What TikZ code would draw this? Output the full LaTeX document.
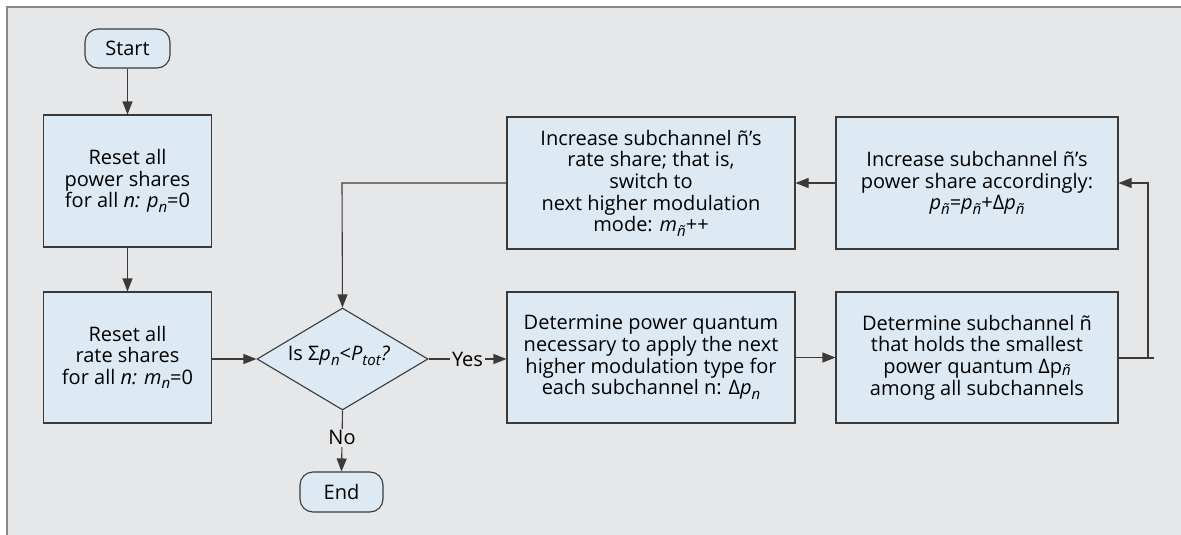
\documentclass[tikz,border=0pt]{standalone}
\usepackage{fontspec}
\setmainfont{Open Sans}
\usetikzlibrary{shapes.geometric,arrows.meta}
\definecolor{bgc}{HTML}{E6E7E9}
\definecolor{boxc}{HTML}{DDEAF4}
\definecolor{linec}{HTML}{3A3A3A}
\definecolor{framec}{HTML}{888888}
\newcommand{\msub}[1]{\raisebox{-0.4ex}{\fontsize{15}{15}\selectfont\textit{#1}}}
\newcommand{\vi}[1]{\textit{#1}}
\tikzset{
  basefont/.style={font=\fontsize{20}{21.7}\selectfont},
  procbox/.style={draw=linec, line width=1.1pt, fill=boxc, basefont, align=center, inner sep=2pt},
  termbox/.style={draw=linec, line width=1.1pt, fill=boxc, basefont, rounded corners=13pt, align=center, inner sep=0pt},
  decbox/.style={draw=linec, line width=1.1pt, fill=boxc, diamond, inner sep=0pt, minimum width=171pt, minimum height=102pt},
  conn/.style={draw=linec, line width=1.1pt},
  arr/.style={conn, -{Triangle[length=13pt,width=10pt]}},
  lbl/.style={basefont, fill=bgc, inner sep=2pt}
}
\begin{document}
\begin{tikzpicture}[x=1pt,y=-1pt]
\useasboundingbox (0,0) rectangle (1181,535);
\fill[white] (0,0) rectangle (1181,535);
\fill[bgc] (7,7) rectangle (1181,535);
\draw[framec, line width=2.4pt] (7,535) -- (7,7) -- (1181,7);

\node[termbox, minimum width=85pt, minimum height=39pt] (start) at (127.5,48.5) {Start};
\node[procbox, minimum width=168pt, minimum height=132pt] (b1) at (127.5,181) {Reset all\\power shares\\for all \vi{n:} \vi{p}\msub{n}=0};
\node[procbox, minimum width=168pt, minimum height=131pt] (b2) at (127.5,357.5) {Reset all\\rate shares\\for all \vi{n:} \vi{m}\msub{n}=0};
\node[decbox] (dec) at (342.5,359) {};
\node[basefont, inner sep=0pt] (dect) at (339,356) {Is Σ\vi{p}\msub{n}<\vi{P}\msub{tot}\vi{?}};
\node[termbox, minimum width=83pt, minimum height=40pt] (end) at (341.5,492) {End};
\node[procbox, minimum width=288pt, minimum height=132pt] (b3) at (651,183) {Increase subchannel ñ’s\\rate share; that is,\\switch to\\next higher modulation\\mode: \vi{m}\msub{ñ}++};
\node[procbox, minimum width=282pt, minimum height=132pt] (b4) at (977,183) {Increase subchannel ñ’s\\power share accordingly:\\\vi{p}\msub{ñ}=\vi{p}\msub{ñ}+Δ\vi{p}\msub{ñ}};
\node[procbox, minimum width=288pt, minimum height=131pt] (b5) at (651,357.5) {Determine power quantum\\necessary to apply the next\\higher modulation type for\\each subchannel n: Δ\vi{p}\msub{n}};
\node[procbox, minimum width=282pt, minimum height=131pt] (b6) at (977,357.5) {Determine subchannel ñ\\that holds the smallest\\power quantum Δp\raisebox{-0.2ex}{\fontsize{15}{15}\selectfont\textit{ñ}}\\among all subchannels};

\coordinate (tick) at (1154,358);
\coordinate (rturn) at (1148,358);
\coordinate (rtop) at (1148,183);
\coordinate (lturn) at (342,183);

\draw[arr] (start) -- (b1);
\draw[arr] (b1) -- (b2);
\draw[arr] (b2.east |- dec.west) -- (dec.west);
\draw[arr] (dec.east) -- node[lbl] {Yes} (b5.west |- dec.east);
\draw[arr] (dec.south) -- node[lbl, pos=0.45] {No} (end.north);
\draw[arr] (b5.east |- b6.west) -- (b6.west);
\draw[conn] (b6.east |- tick) -- (tick);
\draw[arr] (rturn) -- (rtop) -- (b4.east);
\draw[arr] (b4.west) -- (b3.east);
\draw[arr] (b3.west) -- (lturn) -- (dec.north);
\end{tikzpicture}
\end{document}
